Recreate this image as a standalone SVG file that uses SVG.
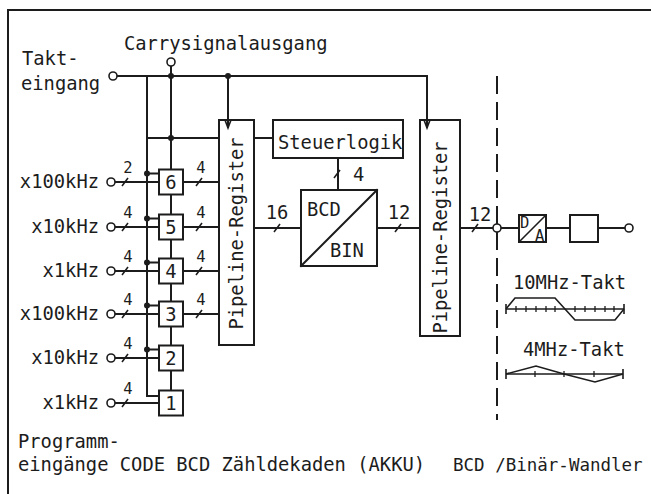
<svg xmlns="http://www.w3.org/2000/svg" xmlns:xlink="http://www.w3.org/1999/xlink" width="651" height="494" viewBox="0 0 651 494">
<style>
.ln{stroke:#1c1c1c;stroke-width:2;fill:none;stroke-linecap:square}
.thin{stroke:#1c1c1c;stroke-width:1.6;fill:none}
.box{fill:#fff;stroke:#1c1c1c;stroke-width:2}
.pin{fill:#fff;stroke:#1c1c1c;stroke-width:1.6}
.dot{fill:#1c1c1c}
.t{font-family:"DejaVu Sans Mono","Liberation Mono",monospace;font-size:18.8px;fill:#1c1c1c}
.s{font-size:15.5px}
.m{text-anchor:middle}
.e{text-anchor:end}
</style>
<defs>
<path id="sl" d="M-3,4 L3,-4" stroke="#1c1c1c" stroke-width="1.6" fill="none"/>
<path id="tk" d="M0,-3 V3" stroke="#1c1c1c" stroke-width="1.3" fill="none"/>
<path id="tke" d="M0,-5 V5" stroke="#1c1c1c" stroke-width="1.6" fill="none"/>
</defs>
<rect width="651" height="494" fill="#fff"/>
<g id="frame">
<path class="ln" d="M8,494 V10 H651"/>
</g>
<g id="connectors">
<path class="ln" d="M117,76 H427 V127"/>
<path class="ln" d="M228,76 V127"/>
<path class="ln" d="M147,76 V396 H159"/>
<path class="ln" d="M147,173.5 H159 M147,218.5 H159 M147,262.5 H159 M147,305.5 H159 M147,349.5 H159"/>
<path class="ln" d="M171,66 V169.5 M171,194.5 V214.5 M171,239.5 V258.5 M171,283.5 V301.5 M171,326.5 V345.5 M171,370.5 V390.5"/>
<path class="ln" d="M147,138 H219 M254,138 H273"/>
<path class="ln" d="M115,182 H159 M115,227 H159 M115,271 H159 M115,314 H159 M115,358 H159 M115,403 H159"/>
<path class="ln" d="M183,182 H219 M183,227 H219 M183,271 H219 M183,314 H219"/>
<path class="ln" d="M254,228 H301 M377,228 H420 M460,228 H493 M501,228 H519 M546,228 H570 M598,228 H625"/>
<path class="ln" d="M338,158 V190"/>
<path d="M497,76 V420" stroke="#1c1c1c" stroke-width="2" stroke-dasharray="18 8" fill="none"/>
<path class="thin" d="M225,120 L228,128 L231,120"/>
<path class="thin" d="M424,120 L427,128 L430,120"/>
<circle class="dot" cx="171" cy="76" r="3"/>
<circle class="dot" cx="228" cy="76" r="3"/>
<circle class="dot" cx="171" cy="138" r="3"/>
<circle class="dot" cx="147" cy="173.5" r="3"/>
<circle class="dot" cx="147" cy="218.5" r="3"/>
<circle class="dot" cx="147" cy="262.5" r="3"/>
<circle class="dot" cx="147" cy="305.5" r="3"/>
<circle class="dot" cx="147" cy="349.5" r="3"/>
<use xlink:href="#sl" x="125" y="182"/><use xlink:href="#sl" x="125" y="227"/><use xlink:href="#sl" x="125" y="271"/>
<use xlink:href="#sl" x="125" y="314"/><use xlink:href="#sl" x="125" y="358"/><use xlink:href="#sl" x="125" y="403"/>
<use xlink:href="#sl" x="199" y="182"/><use xlink:href="#sl" x="199" y="227"/><use xlink:href="#sl" x="199" y="271"/>
<use xlink:href="#sl" x="199" y="314"/>
<use xlink:href="#sl" x="277" y="228"/><use xlink:href="#sl" x="398" y="228"/><use xlink:href="#sl" x="475" y="228"/>
<use xlink:href="#sl" x="337" y="174"/>
<text class="t s m" x="128" y="173">2</text>
<text class="t s m" x="128" y="218">4</text>
<text class="t s m" x="128" y="262">4</text>
<text class="t s m" x="128" y="305">4</text>
<text class="t s m" x="128" y="349">4</text>
<text class="t s m" x="128" y="394">4</text>
<text class="t s m" x="201" y="173">4</text>
<text class="t s m" x="201" y="218">4</text>
<text class="t s m" x="201" y="262">4</text>
<text class="t s m" x="201" y="305">4</text>
<text class="t m" x="277" y="219">16</text>
<text class="t m" x="399" y="219">12</text>
<text class="t m" x="480" y="221">12</text>
<text class="t" x="353" y="181">4</text>
</g>
<g id="takteingang">
<circle class="pin" cx="113" cy="76" r="4"/>
<text class="t" x="22" y="65">Takt-</text>
<text class="t" x="21" y="90">eingang</text>
</g>
<g id="carry">
<circle class="pin" cx="171" cy="62" r="4"/>
<text class="t" x="124" y="50">Carrysignalausgang</text>
</g>
<g id="inputs">
<circle class="pin" cx="111" cy="182" r="4"/><text class="t e" x="99" y="188">x100kHz</text>
<circle class="pin" cx="111" cy="227" r="4"/><text class="t e" x="99" y="233">x10kHz</text>
<circle class="pin" cx="111" cy="271" r="4"/><text class="t e" x="99" y="277">x1kHz</text>
<circle class="pin" cx="111" cy="314" r="4"/><text class="t e" x="99" y="320">x100kHz</text>
<circle class="pin" cx="111" cy="358" r="4"/><text class="t e" x="99" y="364">x10kHz</text>
<circle class="pin" cx="111" cy="403" r="4"/><text class="t e" x="99" y="409">x1kHz</text>
</g>
<g id="counter6"><rect class="box" x="159" y="169.5" width="24" height="25"/><text class="t m" x="171" y="189">6</text></g>
<g id="counter5"><rect class="box" x="159" y="214.5" width="24" height="25"/><text class="t m" x="171" y="234">5</text></g>
<g id="counter4"><rect class="box" x="159" y="258.5" width="24" height="25"/><text class="t m" x="171" y="278">4</text></g>
<g id="counter3"><rect class="box" x="159" y="301.5" width="24" height="25"/><text class="t m" x="171" y="321">3</text></g>
<g id="counter2"><rect class="box" x="159" y="345.5" width="24" height="25"/><text class="t m" x="171" y="365">2</text></g>
<g id="counter1"><rect class="box" x="159" y="390.5" width="24" height="25"/><text class="t m" x="171" y="410">1</text></g>
<g id="register1">
<rect class="box" x="219" y="120" width="35" height="225" style="fill:none"/>
<text class="t m" transform="translate(243,233.5) rotate(-90)">Pipeline-Register</text>
</g>
<g id="steuerlogik">
<rect class="box" x="273" y="120" width="130" height="38"/>
<text class="t" x="278" y="149">Steuerlogik</text>
</g>
<g id="bcdbin">
<rect class="box" x="301" y="190" width="76" height="76"/>
<path class="ln" d="M301,266 L377,190"/>
<text class="t" x="307" y="216">BCD</text>
<text class="t" x="330" y="257">BIN</text>
</g>
<g id="register2">
<rect class="box" x="420" y="120" width="40" height="216" style="fill:none"/>
<text class="t m" transform="translate(447,237.5) rotate(-90)">Pipeline-Register</text>
</g>
<g id="junction"><circle class="pin" cx="497" cy="228" r="4"/></g>
<g id="da">
<rect class="box" x="519" y="215" width="27" height="27"/>
<path class="thin" d="M519,242 L546,215"/>
<text class="t s" x="520" y="228">D</text>
<text class="t s" x="535" y="241">A</text>
</g>
<g id="filter"><rect class="box" x="570" y="215" width="28" height="27"/></g>
<g id="output"><circle class="pin" cx="629" cy="228" r="4"/></g>
<g id="takt10">
<text class="t" x="513" y="289">10MHz-Takt</text>
<path class="thin" d="M506,309 H624"/>
<use xlink:href="#tke" x="506" y="309"/><use xlink:href="#tke" x="624" y="309"/>
<use xlink:href="#tk" x="516" y="309"/><use xlink:href="#tk" x="526" y="309"/><use xlink:href="#tk" x="536" y="309"/>
<use xlink:href="#tk" x="546" y="309"/><use xlink:href="#tk" x="555" y="309"/><use xlink:href="#tk" x="575" y="309"/>
<use xlink:href="#tk" x="585" y="309"/><use xlink:href="#tk" x="595" y="309"/><use xlink:href="#tk" x="605" y="309"/>
<use xlink:href="#tk" x="614" y="309"/>
<path class="thin" d="M506,309 L515,298 H555 L575,320 H615 L624,309"/>
</g>
<g id="takt4">
<text class="t" x="523" y="356">4MHz-Takt</text>
<path class="thin" d="M506,374 H623"/>
<use xlink:href="#tke" x="506" y="374"/><use xlink:href="#tke" x="623" y="374"/>
<use xlink:href="#tk" x="535" y="374"/><use xlink:href="#tk" x="564" y="374"/><use xlink:href="#tk" x="594" y="374"/>
<path class="thin" d="M506,374 L536,366 L564,374 L595,382 L623,374"/>
</g>
<g id="captions">
<text class="t" x="18" y="448">Programm-</text>
<text class="t" x="18" y="471">eingänge CODE BCD Zähldekaden (AKKU)</text>
<text class="t" x="453" y="471" style="font-size:17.5px">BCD /Binär-Wandler</text>
</g>
</svg>
